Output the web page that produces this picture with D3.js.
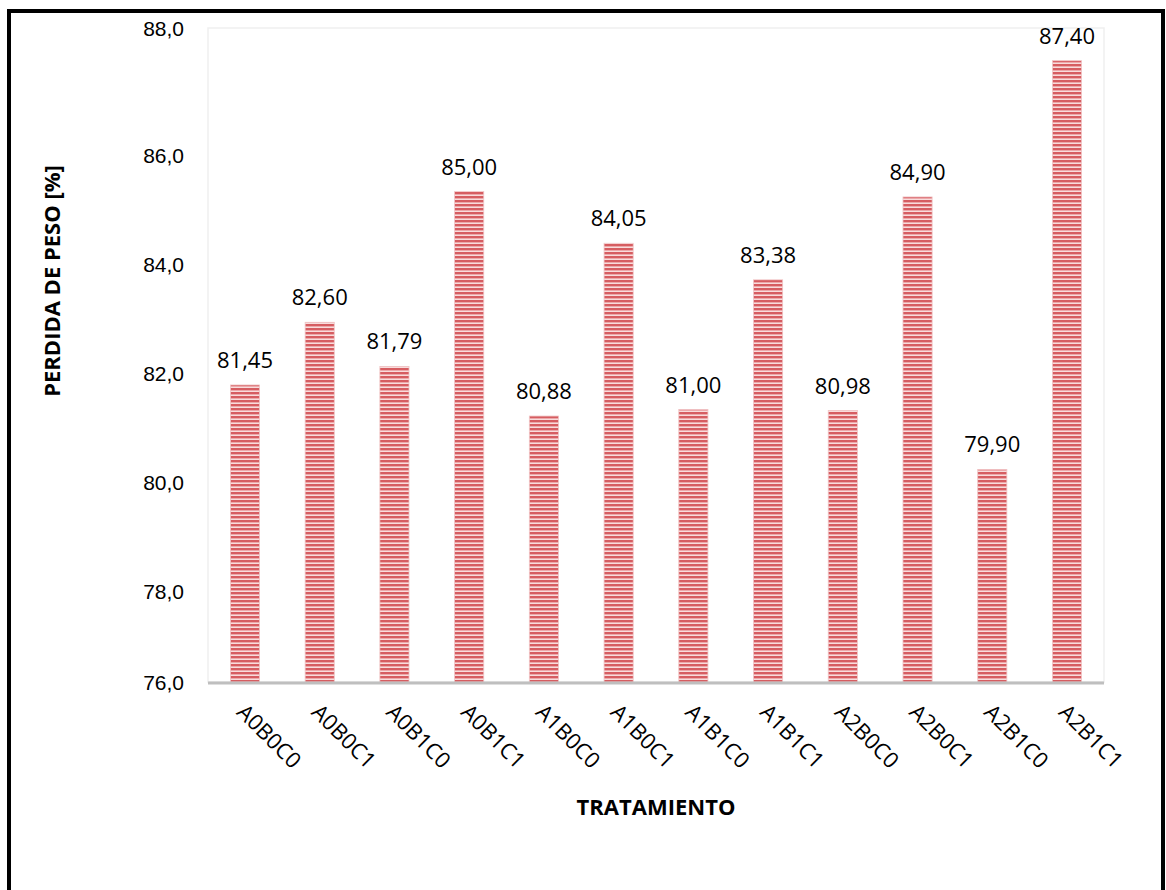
<!DOCTYPE html>
<html>
<head>
<meta charset="utf-8">
<title>Perdida de peso por tratamiento</title>
<script src="https://d3js.org/d3.v7.min.js"></script>
<style>
  body { margin: 0; background: #fff; font-family: "Open Sans", sans-serif; }
  .tick text { fill: #000; }
</style>
</head>
<body>
<div id="chart"></div>
<script>
  // data
  const treatments = ["A0B0C0","A0B0C1","A0B1C0","A0B1C1","A1B0C0","A1B0C1",
                      "A1B1C0","A1B1C1","A2B0C0","A2B0C1","A2B1C0","A2B1C1"];
  const weightLoss = [81.45, 82.60, 81.79, 85.00, 80.88, 84.05,
                      81.00, 83.38, 80.98, 84.90, 79.90, 87.40];
  const yTicks = [76, 78, 80, 82, 84, 86, 88];

  const width = 1166, height = 890;
  const plot = { left: 208, right: 1104, top: 28, bottom: 682 };

  const svg = d3.select("#chart").append("svg")
    .attr("width", width)
    .attr("height", height);

  // striped fill like the original bars
  const pat = svg.append("defs").append("pattern")
    .attr("id", "stripes")
    .attr("patternUnits", "userSpaceOnUse")
    .attr("width", 4).attr("height", 4);
  pat.append("rect").attr("width", 4).attr("height", 4).attr("fill", "#d65d61");
  pat.append("rect").attr("y", 2).attr("width", 4).attr("height", 1).attr("fill", "#eca8aa");
  pat.append("rect").attr("y", 3).attr("width", 4).attr("height", 1).attr("fill", "#f8dcdc");

  // outer frame
  svg.append("rect")
    .attr("x", 9).attr("y", 11)
    .attr("width", 1154).attr("height", 920)
    .attr("fill", "none").attr("stroke", "#000").attr("stroke-width", 4);

  // plot area border
  svg.append("rect")
    .attr("x", plot.left).attr("y", plot.top)
    .attr("width", plot.right - plot.left).attr("height", plot.bottom - plot.top)
    .attr("fill", "none").attr("stroke", "#efefef").attr("stroke-width", 1.5);

  const x = d3.scaleBand()
    .domain(treatments)
    .range([plot.left, plot.right])
    .paddingInner(0.61)
    .paddingOuter(0.3);

  const y = d3.scaleLinear()
    .domain([76, 88])
    .range([plot.bottom, plot.top]);

  const fmt = (v, d) => v.toFixed(d).replace(".", ",");

  // y axis (labels only)
  const yAxis = svg.append("g")
    .attr("transform", `translate(${plot.left - 24},0)`)
    .call(d3.axisLeft(y).tickValues(yTicks).tickSize(0).tickPadding(0)
      .tickFormat(d => fmt(d, 1)));
  yAxis.select(".domain").remove();
  yAxis.selectAll("text")
    .style("font-size", "21px")
    .attr("dy", d => (d === 76 || d === 88) ? "0.36em" : "1.2em");

  // bars
  svg.append("g").selectAll("rect")
    .data(treatments)
    .join("rect")
    .attr("x", d => x(d))
    .attr("y", (d, i) => y(weightLoss[i]))
    .attr("width", x.bandwidth())
    .attr("height", (d, i) => y(76) - y(weightLoss[i]))
    .attr("fill", "url(#stripes)")
    .attr("stroke", "#f0c4c5")
    .attr("stroke-width", 0.8);

  // value labels
  svg.append("g").selectAll("text")
    .data(treatments)
    .join("text")
    .attr("x", d => x(d) + x.bandwidth() / 2)
    .attr("y", (d, i) => y(weightLoss[i]) - 17)
    .attr("text-anchor", "middle")
    .style("font-size", "22px")
    .text((d, i) => fmt(weightLoss[i], 2));

  // x axis line
  svg.append("line")
    .attr("x1", plot.left).attr("x2", plot.right)
    .attr("y1", plot.bottom + 1).attr("y2", plot.bottom + 1)
    .attr("stroke", "#bfbfbf").attr("stroke-width", 3);

  // rotated category labels
  svg.append("g").selectAll("text")
    .data(treatments)
    .join("text")
    .attr("transform", d => `translate(${x(d) + x.bandwidth() / 2 - 4},${plot.bottom + 26}) rotate(45)`)
    .attr("text-anchor", "start")
    .attr("dy", "0.35em")
    .style("font-size", "22px")
    .text(d => d);

  // axis titles
  svg.append("text")
    .attr("x", 656).attr("y", 815)
    .attr("text-anchor", "middle")
    .style("font-size", "22px").style("font-weight", "bold")
    .text("TRATAMIENTO");

  svg.append("text")
    .attr("transform", "translate(60,281) rotate(-90)")
    .attr("text-anchor", "middle")
    .style("font-size", "22px").style("font-weight", "bold")
    .text("PERDIDA DE PESO [%]");
</script>
</body>
</html>
